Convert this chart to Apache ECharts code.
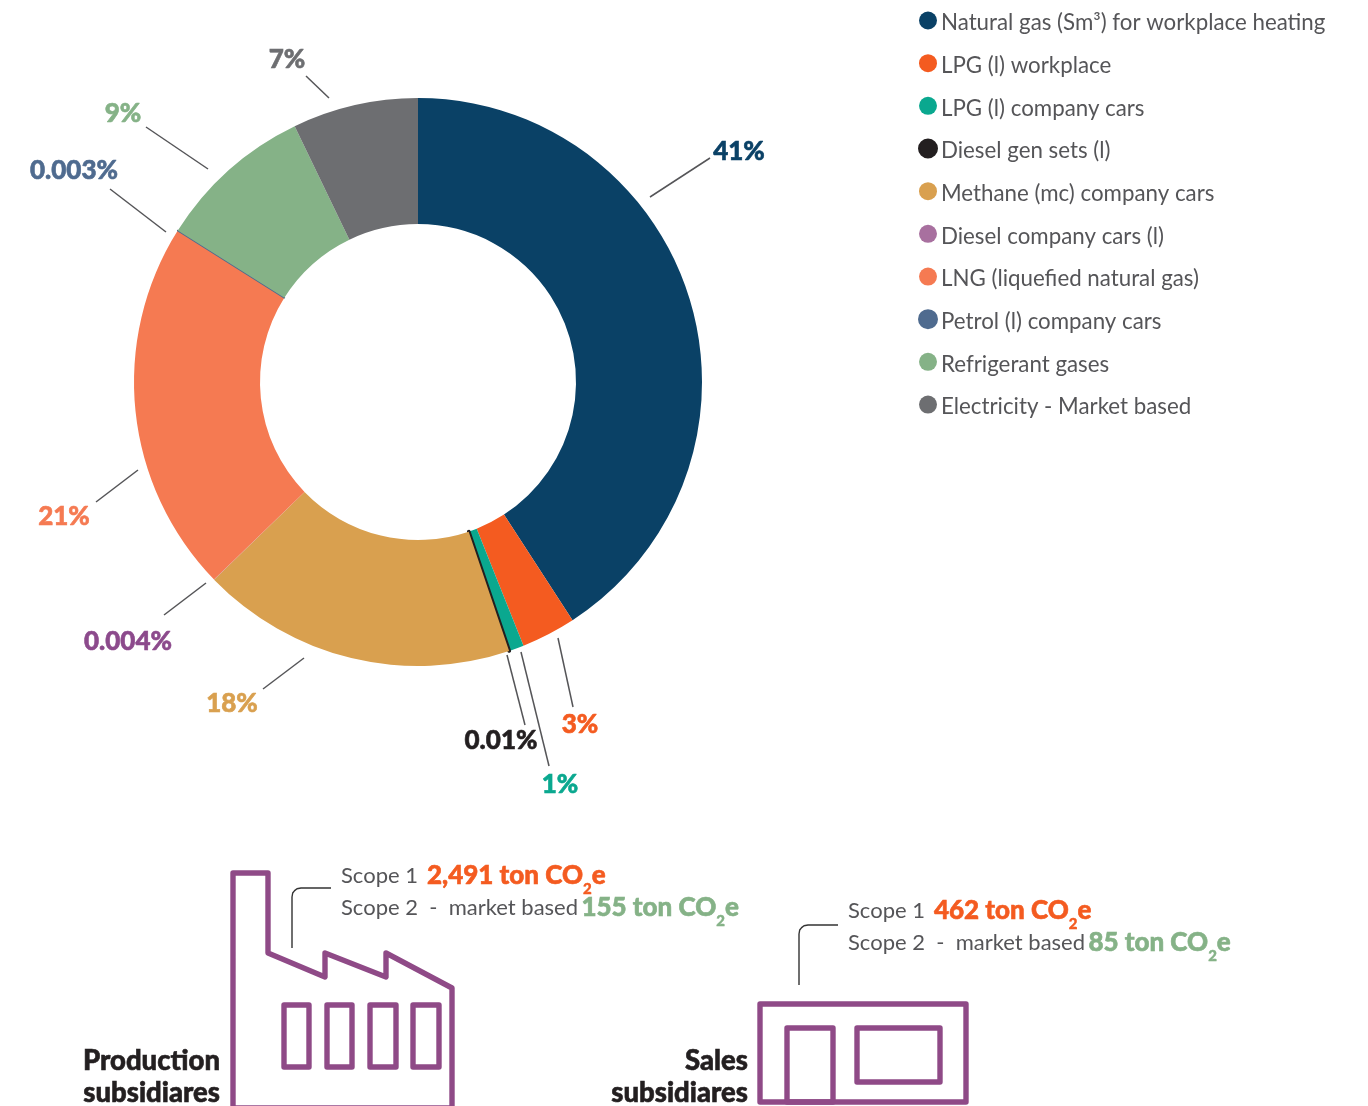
<!DOCTYPE html>
<html><head><meta charset="utf-8">
<style>html,body{margin:0;padding:0;background:#fff}#c{width:1368px;height:1106px}</style>
<script src="https://cdn.jsdelivr.net/npm/echarts@6/dist/echarts.min.js"></script></head>
<body><div id="c"></div>
<script>
const categories = ["Natural gas (Sm³) for workplace heating","LPG (l) workplace","LPG (l) company cars","Diesel gen sets (l)","Methane (mc) company cars","Diesel company cars (l)","LNG (liquefied natural gas)","Petrol (l) company cars","Refrigerant gases","Electricity - Market based"];
const shares = [40.85,3.1,0.85,0.01,17.95,0.004,21.2,0.003,8.9,7.15];
const shareLabels = ["41%","3%","1%","0.01%","18%","0.004%","21%","0.003%","9%","7%"];
const sliceColors = ["#0a4166","#f45b20","#0aa88f","#231f20","#d9a04f","#a8709f","#f57a52","#4f6b8f","#85b287","#6d6e71"];
const labelColors = ["#0a4166","#f45b20","#0aa88f","#231f20","#d9a04f","#8c4a8c","#f57a52","#4f6b8f","#85b287","#6d6e71"];
const labelCentres = [[739,152],[580,725],[560,785],[501,741],[232,704],[128,642],[64,517],[74,171],[123,114],[287,60]];
const leaders = [[[710,158],[650,197]],[[573,707],[558,638]],[[549,766],[521,652]],[[525,725],[507,655]],[[263,689],[304,658]],[[164,615],[206,583]],[[96,502],[138,470]],[[110,189],[166,232]],[[146,127],[208,169]],[[306,76],[329,98]]];
const thinSliceBorder = {3:3.6,7:1.6};
const SANS = 'Lato', PURPLE = '#8f4a87', GREY = '#555558';

const chart = echarts.init(document.getElementById('c'), null, {renderer:'canvas'});

function scopeLine(x, y, label, value, colour){
  const bold = {fontFamily:SANS,fontSize:26,fontWeight:900,fill:colour,stroke:colour,lineWidth:0.6};
  return {type:'text',x:x,y:y,silent:true,style:{
    text:`{t|${label}} {v|${value} ton CO}{s|2}{v|e}`,
    rich:{
      t:{fontFamily:SANS,fontSize:22,fill:GREY},
      v:bold,
      s:{fontFamily:SANS,fontSize:15,fontWeight:900,fill:colour,stroke:colour,lineWidth:0.4,padding:[28,0,0,0]}
    }}};
}
const line = (pts,stroke,w)=>({type:'polyline',silent:true,shape:{points:pts},style:{stroke:stroke||PURPLE,lineWidth:w||5.4,fill:null,lineJoin:'round'}});
const rect = (x,y,w,h)=>({type:'rect',silent:true,shape:{x,y,width:w,height:h},style:{stroke:PURPLE,lineWidth:5.4,fill:null,lineJoin:'round'}});
const callout = (x,y0,y1,x1)=>line([[x,y0],[x,y1+9],[x+0.7,y1+5],[x+2.6,y1+2.6],[x+5,y1+0.7],[x+9,y1],[x1,y1]],'#333',1.4);
const heading = (right,y,txt)=>({type:'text',silent:true,x:right,y:y,style:{text:txt,align:'right',fontFamily:SANS,fontWeight:900,fontSize:27.5,lineHeight:32,fill:'#231f20',stroke:'#231f20',lineWidth:0.6}});

chart.setOption({
  animation:false,
  legend:{orient:'vertical',left:918,top:7,padding:0,itemWidth:18,itemHeight:18,itemGap:15.67,icon:'circle',
    selectedMode:false,
    formatter:n=>`{a|${n}}`,
    textStyle:{rich:{a:{fontFamily:SANS,fontSize:22.3,lineHeight:22,color:GREY,padding:[5,0,0,-1]}}},
    data:categories},
  series:[{
    type:'pie',center:[418,382],radius:[158,284],startAngle:90,clockwise:true,
    avoidLabelOverlap:false,silent:true,
    data:categories.map((n,i)=>({name:n,value:shares[i],
      itemStyle:{color:sliceColors[i],borderColor:sliceColors[i],borderWidth:thinSliceBorder[i]||0},
      label:{color:labelColors[i],textBorderColor:labelColors[i],textBorderWidth:0.6},
      labelLine:{show:true}})),
    label:{show:true,position:'outside',fontFamily:SANS,fontWeight:900,fontSize:26,
      formatter:p=>shareLabels[p.dataIndex]},
    labelLine:{show:true,lineStyle:{color:GREY,width:1.5}},
    labelLayout:p=>{
      const i=p.dataIndex,[a,b]=leaders[i];
      return {x:labelCentres[i][0],y:labelCentres[i][1],align:'center',verticalAlign:'middle',
        labelLinePoints:[a,[(a[0]+b[0])/2,(a[1]+b[1])/2],b]};
    }
  }],
  graphic:[
    line([[233,1110],[233,873],[268,873],[268,953],[325,977],[325,953],[386,977],[386,953],[452,988],[452,1110]]),
    line([[233,1108],[452,1108]]),
    rect(284,1005,25,62),rect(327,1005,25,62),rect(370,1005,26,62),rect(413,1005,26,62),
    rect(760,1004,206,98),
    rect(787,1028,46,74),rect(857,1028,83,54),
    callout(292,948,888,331),
    callout(799,985,925,838),
    scopeLine(341,854,'Scope 1 ','2,491','#f45b20'),
    scopeLine(341,886,'Scope 2  -  market based','155','#85b287'),
    scopeLine(848,889,'Scope 1 ','462','#f45b20'),
    scopeLine(848,921,'Scope 2  -  market based','85','#85b287'),
    heading(220,1045,'Production\nsubsidiares'),
    heading(748,1045,'Sales\nsubsidiares')
  ]
});
</script></body></html>
